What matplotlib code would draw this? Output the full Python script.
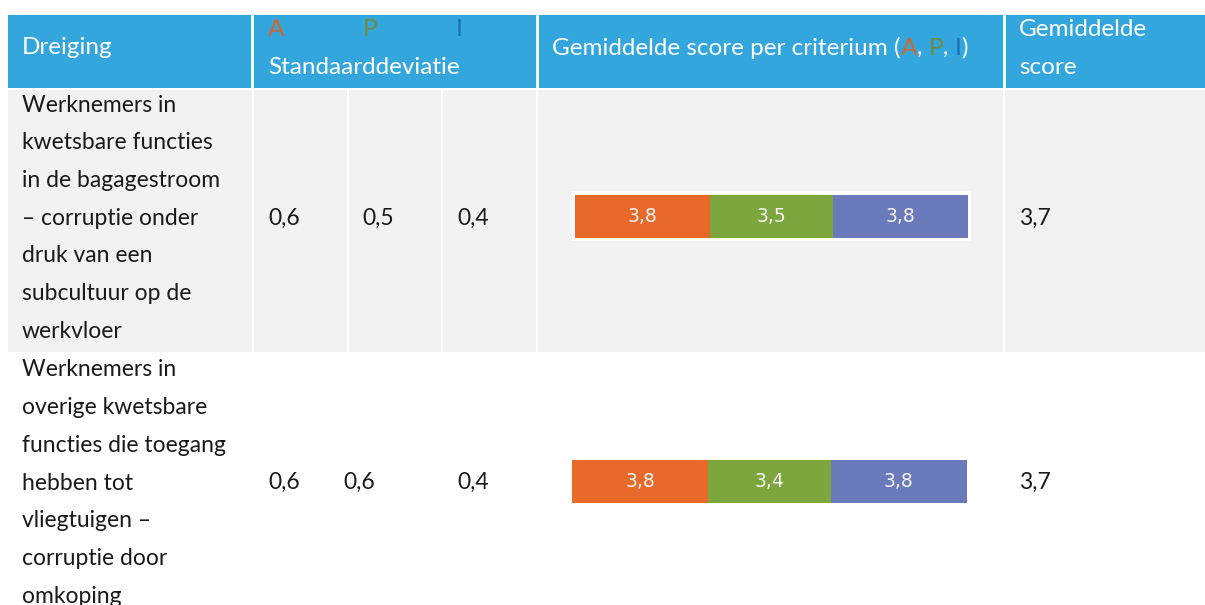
import matplotlib.pyplot as plt
from matplotlib.patches import Rectangle

plt.rcParams['font.family'] = ['Lato', 'DejaVu Sans']

# table content
threats = [
    ["Werknemers in", "kwetsbare functies", "in de bagagestroom",
     "– corruptie onder", "druk van een", "subcultuur op de", "werkvloer"],
    ["Werknemers in", "overige kwetsbare", "functies die toegang",
     "hebben tot", "vliegtuigen –", "corruptie door", "omkoping"],
]
std_a = ["0,6", "0,6"]
std_p = ["0,5", "0,6"]
std_i = ["0,4", "0,4"]
score_a = [3.8, 3.8]
score_p = [3.5, 3.4]
score_i = [3.8, 3.8]
avg_score = ["3,7", "3,7"]

header_blue = '#33a6de'
row_gray = '#f2f2f2'
bar_colors = ['#e8692a', '#7ea63e', '#6a7aba']
letter_colors = ['#d0672c', '#6f8b3e', '#1f6fb5']

fig = plt.figure(figsize=(12.05, 6.05), dpi=100)
ax = fig.add_axes([0, 0, 1, 1])
ax.set_xlim(0, 1205)
ax.set_ylim(605, 0)
ax.axis('off')

# header background
ax.add_patch(Rectangle((8, 15), 1197, 73, color=header_blue, lw=0))
for x in [252, 537, 1004]:
    ax.plot([x, x], [15, 88], color='white', lw=2)

# row 1 gray cells
for x0, x1 in [(8, 252), (254, 347), (349, 441), (443, 536), (538, 1003), (1005, 1205)]:
    ax.add_patch(Rectangle((x0, 90), x1 - x0, 262, color=row_gray, lw=0))

hfs = 17.5
fs = 16.5
ax.text(22, 48, "Dreiging", color='white', fontsize=hfs, va='center')
for x, letter, c in zip([268, 363, 456], ["A", "P", "I"], letter_colors):
    ax.text(x, 30, letter, color=c, fontsize=hfs, va='center')
ax.text(268, 68, "Standaarddeviatie", color='white', fontsize=hfs, va='center')
ax.text(1019, 30, "Gemiddelde", color='white', fontsize=hfs, va='center')
ax.text(1019, 68, "score", color='white', fontsize=hfs, va='center')

# header with coloured letters
pieces = [("Gemiddelde score per criterium (", 'white'), ("A", letter_colors[0]),
          (", ", 'white'), ("P", letter_colors[1]), (", ", 'white'),
          ("I", letter_colors[2]), (")", 'white')]
prev = ax.text(552, 48, pieces[0][0], color=pieces[0][1], fontsize=hfs, va='center')
for s, c in pieces[1:]:
    prev = ax.annotate(s, xy=(1, 0), xycoords=prev, color=c, fontsize=hfs,
                       va='bottom', ha='left')

# body rows
row_tops = [105, 370]
row_mid = [218, 482]
std_x = [[268, 362, 457], [268, 343, 457]]
bar_boxes = [(575, 968, 195, 238), (572, 967, 460, 503)]
for r in range(2):
    for k, line in enumerate(threats[r]):
        ax.text(22, row_tops[r] + k * 37.7, line, fontsize=fs, va='center', color='#1a1a1a')
    for x, v in zip(std_x[r], [std_a[r], std_p[r], std_i[r]]):
        ax.text(x, row_mid[r], v, fontsize=fs, va='center', color='#1a1a1a')
    ax.text(1019, row_mid[r], avg_score[r], fontsize=fs, va='center', color='#1a1a1a')

    # white chart background
    x0, x1, y0, y1 = bar_boxes[r]
    ax.add_patch(Rectangle((x0 - 3, y0 - 4), x1 - x0 + 6, y1 - y0 + 7, color='white', lw=0))

    bax = fig.add_axes([x0 / 1205, 1 - y1 / 605, (x1 - x0) / 1205, (y1 - y0) / 605])
    vals = [score_a[r], score_p[r], score_i[r]]
    left = 0
    for v, c in zip(vals, bar_colors):
        bax.barh(0, v, left=left, color=c, height=1)
        bax.text(left + v / 2, 0, f"{v:.1f}".replace('.', ','), color='#f4f4f4',
                 fontsize=13.5, ha='center', va='center', family='DejaVu Sans')
        left += v
    bax.set_xlim(0, sum(vals))
    bax.set_ylim(-0.5, 0.5)
    bax.axis('off')

fig.savefig('out.png', dpi=100)
